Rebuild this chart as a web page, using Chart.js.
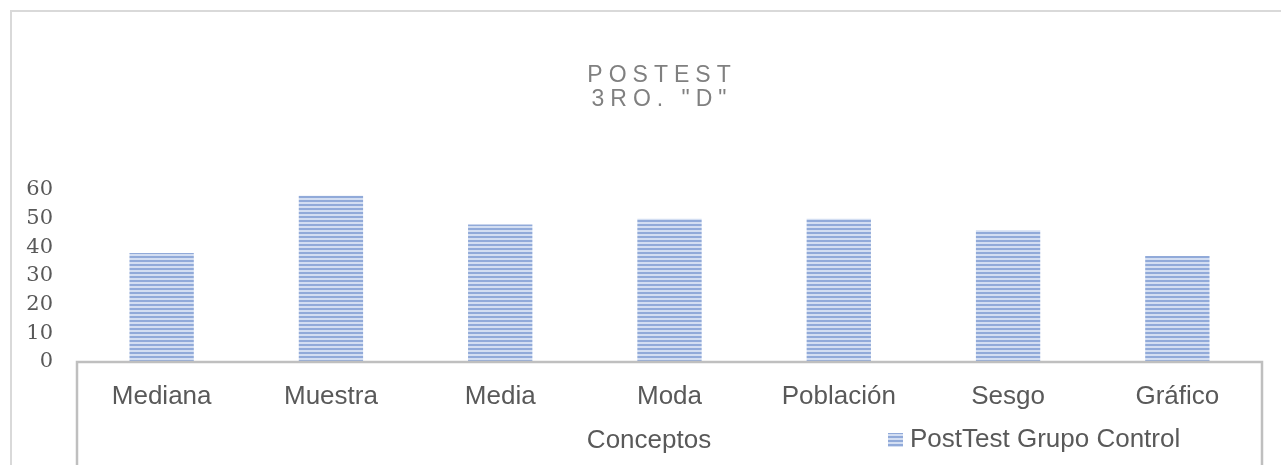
<!DOCTYPE html>
<html>
<head>
<meta charset="utf-8">
<script src="https://cdn.jsdelivr.net/npm/chart.js@4.4.0/dist/chart.umd.min.js"></script>
<style>
  html, body { margin: 0; padding: 0; background: #ffffff; }
  #wrap { width: 1281px; height: 465px; position: relative; }
</style>
</head>
<body>
<div id="wrap"><canvas id="c"></canvas></div>
<script>
// Data
const categories = ['Mediana', 'Muestra', 'Media', 'Moda', 'Población', 'Sesgo', 'Gráfico'];
const postTestControl = [38, 58, 48, 50, 50, 46, 37];
const yTickValues = [0, 10, 20, 30, 40, 50, 60];
const titleLines = ['POSTEST', '3RO. "D"'];
const seriesName = 'PostTest Grupo Control';
const axisName = 'Conceptos';

// Horizontal-stripe fill for the bars
function makeStripes() {
  const tile = document.createElement('canvas');
  tile.width = 4; tile.height = 4;
  const t = tile.getContext('2d');
  t.fillStyle = '#D3DEF2';
  t.fillRect(0, 0, 4, 4);
  t.fillStyle = '#91AAD9';
  t.fillRect(0, 0, 4, 2);
  return t.createPattern(tile, 'repeat');
}
const stripeFill = makeStripes();

const LABEL_GREY = '#595959';
const LINE_GREY = '#BFBFBF';
const SANS = '"Liberation Sans", Arial, sans-serif';

// Frame, axis box, title, axis caption and legend
const decorations = {
  id: 'decorations',
  beforeDraw(chart) {
    const ctx = chart.ctx;
    ctx.save();
    ctx.strokeStyle = '#D9D9D9';
    ctx.lineWidth = 2;
    ctx.beginPath();
    ctx.moveTo(11, chart.height + 5);
    ctx.lineTo(11, 11);
    ctx.lineTo(chart.width + 5, 11);
    ctx.stroke();
    ctx.restore();
  },
  afterDatasetsDraw(chart) {
    const ctx = chart.ctx;
    const a = chart.chartArea;
    ctx.save();
    ctx.strokeStyle = LINE_GREY;
    ctx.lineWidth = 2.5;
    ctx.beginPath();
    ctx.moveTo(a.left, chart.height + 5);
    ctx.lineTo(a.left, a.bottom);
    ctx.lineTo(a.right, a.bottom);
    ctx.lineTo(a.right, chart.height + 5);
    ctx.stroke();
    ctx.restore();
  },
  afterDraw(chart) {
    const ctx = chart.ctx;
    ctx.save();
    // Title with wide letter spacing
    ctx.fillStyle = '#808080';
    ctx.font = '23px ' + SANS;
    ctx.textAlign = 'center';
    ctx.textBaseline = 'middle';
    const spacing = 6;
    ctx.letterSpacing = spacing + 'px';
    titleLines.forEach((line, i) => {
      ctx.fillText(line, 659 + spacing / 2, 76 + i * 24);
    });
    ctx.letterSpacing = '0px';

    // Axis caption
    ctx.fillStyle = LABEL_GREY;
    ctx.font = '26px ' + SANS;
    ctx.fillText(axisName, 649, 441);

    // Legend
    ctx.fillStyle = stripeFill;
    ctx.fillRect(888, 433, 15, 14);
    ctx.fillStyle = LABEL_GREY;
    ctx.textAlign = 'left';
    ctx.fillText(seriesName, 910, 440);
    ctx.restore();
  }
};

new Chart(document.getElementById('c'), {
  type: 'bar',
  data: {
    labels: categories,
    datasets: [{
      label: seriesName,
      data: postTestControl,
      backgroundColor: stripeFill,
      borderWidth: 0,
      barPercentage: 0.38,
      categoryPercentage: 1
    }]
  },
  options: {
    responsive: true,
    maintainAspectRatio: false,
    animation: false,
    layout: { padding: { top: 190, right: 19, bottom: 0, left: 0 } },
    plugins: {
      legend: { display: false },
      title: { display: false },
      tooltip: { enabled: false }
    },
    scales: {
      x: {
        grid: { display: false, drawTicks: false },
        border: { display: false },
        ticks: {
          color: LABEL_GREY,
          padding: 19,
          maxRotation: 0,
          font: { family: SANS, size: 26 }
        },
        afterFit(scale) { scale.height = 103; }
      },
      y: {
        min: 0,
        max: 60,
        grid: { display: false, drawTicks: false },
        border: { display: false },
        afterBuildTicks(scale) { scale.ticks = yTickValues.map(v => ({ value: v })); },
        ticks: {
          color: LABEL_GREY,
          padding: 24,
          font: { family: '"DejaVu Serif", serif', size: 21 }
        },
        afterFit(scale) { scale.width = 77; }
      }
    }
  },
  plugins: [decorations]
});
</script>
</body>
</html>
